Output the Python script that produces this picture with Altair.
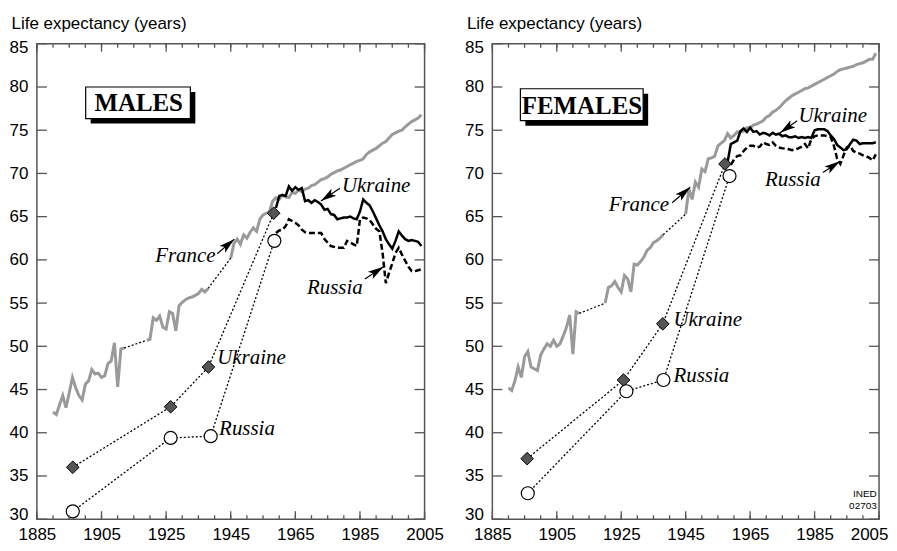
import math
import altair as alt
import pandas as pd

# ---------------- data ----------------
X_DOMAIN = [1885, 2005]
Y_DOMAIN = [30, 85]
X_MAJOR = [1885, 1905, 1925, 1945, 1965, 1985, 2005]
X_MINOR = list(range(1885, 2006, 5))
Y_TICKS = list(range(30, 86, 5))
Y_TITLE = "Life expectancy (years)"

# ---- MALES ----
M_FR_YEARS_1 = list(range(1890, 1913))
M_FR_1 = [42.4, 42.1, 43.2, 44.3, 42.9, 44.6, 46.4, 45.2, 44.3, 43.8,
          45.6, 46.0, 47.3, 46.8, 46.9, 46.4, 46.6, 48.0, 48.3, 50.4,
          45.3, 49.7, 49.8]
M_FR_YEARS_2 = list(range(1919, 1939))
M_FR_2 = [50.7, 50.8, 53.3, 53.0, 53.5, 52.2, 52.0, 54.0, 53.8, 51.8,
          54.7, 55.1, 55.4, 55.6, 55.7, 55.9, 56.1, 56.6, 56.3, 56.7]
M_FR_YEARS_3 = list(range(1945, 2005))
M_FR_3 = [60.2, 61.9, 62.4, 61.8, 62.9, 62.5, 63.2, 63.7, 63.3, 64.7,
          65.2, 65.4, 65.6, 66.8, 67.2, 67.0, 67.5, 67.3, 67.2, 67.8,
          67.7, 68.1, 67.9, 68.2, 68.3, 68.6, 68.7, 69.0, 69.3, 69.4,
          69.6, 69.9, 70.1, 70.3, 70.4, 70.6, 70.8, 71.0, 71.2, 71.4,
          71.5, 71.7, 72.2, 72.5, 72.7, 72.9, 73.2, 73.5, 73.7, 74.1,
          74.5, 74.7, 74.9, 75.0, 75.4, 75.7, 76.0, 76.2, 76.4, 76.8]
M_UA_YEARS = list(range(1959, 2005))
M_UA = [66.0, 67.4, 67.5, 67.4, 68.5, 68.0, 68.4, 68.1, 68.3, 66.8,
        66.9, 66.6, 66.9, 66.7, 66.4, 65.8, 65.9, 65.3, 65.2, 64.7,
        64.8, 64.9, 64.9, 65.0, 64.8, 64.7, 65.6, 67.0, 66.6, 66.3,
        65.6, 64.8, 64.0, 63.3, 62.4, 61.8, 61.3, 62.2, 63.3, 62.8,
        62.4, 62.2, 62.3, 62.2, 62.1, 61.6]
M_RU_YEARS = list(range(1959, 2005))
M_RU = [63.1, 63.4, 63.5, 63.9, 64.7, 64.5, 64.3, 64.0, 63.5, 63.2,
        63.1, 63.1, 63.1, 63.1, 63.1, 62.4, 62.0, 61.6, 61.5, 61.4,
        61.4, 61.4, 62.2, 62.0, 61.8, 61.6, 64.7, 64.9, 64.8, 64.6,
        64.1, 63.6, 63.3, 60.8, 57.3, 58.5, 59.6, 60.8, 61.4, 60.6,
        59.9, 59.2, 58.7, 58.7, 58.8, 58.9]
M_UA_HIST_YEARS = [1896.1, 1926.4, 1938.1, 1958.3]
M_UA_HIST = [36.0, 43.0, 47.6, 65.4]
M_RU_HIST_YEARS = [1896.1, 1926.4, 1938.8, 1958.5]
M_RU_HIST = [30.9, 39.4, 39.6, 62.2]
M_BOX_YEARS = [1900.1, 1932.5]
M_BOX_VALUES = [76.35, 80.0]
M_BOX_TEXT = "MALES"
M_BOX_TEXT_AT = [1916.5, 77.24]
M_LABELS = ["France", "Ukraine", "Russia", "Ukraine", "Russia"]
M_LABEL_YEARS = [1921.6, 1979.4, 1968.6, 1940.8, 1941.4]
M_LABEL_VALUES = [59.75, 67.9, 56.1, 47.95, 39.7]
M_ARROW_FROM_YEARS = [1940.8, 1978.8, 1986.5]
M_ARROW_FROM_VALUES = [60.7, 68.3, 57.8]
M_ARROW_TO_YEARS = [1946.1, 1972.9, 1992.3]
M_ARROW_TO_VALUES = [62.4, 66.8, 59.2]

# ---- FEMALES ----
F_FR_YEARS_1 = list(range(1890, 1913))
F_FR_1 = [45.2, 44.9, 46.0, 47.6, 46.4, 48.8, 49.4, 47.6, 47.4, 47.2,
          49.0, 49.7, 50.3, 50.0, 50.7, 50.0, 50.3, 51.2, 52.2, 53.6,
          49.1, 54.0, 53.8]
F_FR_YEARS_2 = list(range(1920, 1939))
F_FR_2 = [55.0, 56.8, 57.0, 57.5, 56.8, 56.3, 58.2, 57.8, 56.3, 59.5,
          59.4, 59.8, 60.3, 61.1, 61.4, 62.0, 62.2, 62.5, 62.9]
F_FR_YEARS_3 = list(range(1945, 2005))
F_FR_3 = [65.3, 68.2, 67.0, 69.0, 68.4, 70.5, 70.2, 71.7, 71.8, 72.0,
          73.2, 73.5, 73.8, 74.6, 74.1, 74.4, 74.8, 74.8, 74.9, 75.3,
          75.3, 75.6, 75.7, 75.9, 76.1, 76.5, 76.7, 77.1, 77.3, 77.6,
          78.0, 78.4, 78.7, 79.0, 79.2, 79.4, 79.6, 79.8, 79.9, 80.1,
          80.3, 80.5, 80.7, 80.9, 81.1, 81.3, 81.5, 81.8, 82.0, 82.1,
          82.2, 82.3, 82.4, 82.6, 82.7, 82.8, 83.0, 83.2, 83.2, 83.9]
F_UA_YEARS = list(range(1958, 2005))
F_UA = [71.3, 73.4, 73.6, 73.8, 74.9, 75.2, 74.8, 75.3, 74.8, 74.9,
        74.5, 74.7, 74.6, 74.4, 74.7, 74.5, 74.6, 74.3, 74.4, 74.2,
        74.2, 74.3, 74.1, 74.2, 74.1, 74.2, 74.1, 75.0, 75.1, 75.1,
        75.1, 74.9, 74.4, 74.0, 73.3, 73.0, 72.7, 72.8, 73.4, 73.9,
        73.8, 73.4, 73.5, 73.5, 73.5, 73.5, 73.6]
F_RU_YEARS = list(range(1959, 2005))
F_RU = [71.0, 71.6, 72.0, 72.1, 72.6, 73.0, 73.2, 73.2, 73.0, 73.1,
        73.6, 73.4, 73.3, 73.6, 73.2, 73.0, 72.9, 72.9, 72.8, 72.7,
        72.8, 72.9, 73.1, 73.4, 72.9, 74.0, 74.3, 74.4, 74.4, 74.4,
        74.3, 74.2, 73.2, 71.7, 71.1, 72.1, 73.0, 73.2, 72.6, 72.4,
        72.3, 72.1, 72.0, 71.8, 71.5, 72.2]
F_UA_HIST_YEARS = [1895.8, 1925.7, 1937.9, 1957.2]
F_UA_HIST = [37.0, 46.1, 52.6, 71.1]
F_RU_HIST_YEARS = [1896.0, 1926.6, 1938.1, 1958.6]
F_RU_HIST = [33.0, 44.8, 46.1, 69.7]
F_BOX_YEARS = [1893.7, 1931.8]
F_BOX_VALUES = [76.1, 79.8]
F_BOX_TEXT = "FEMALES"
F_BOX_TEXT_AT = [1912.8, 76.9]
F_LABELS = ["France", "Ukraine", "Russia", "Ukraine", "Russia"]
F_LABEL_YEARS = [1921.1, 1980.0, 1969.6, 1941.2, 1941.2]
F_LABEL_VALUES = [65.7, 76.0, 68.5, 52.3, 45.9]
F_ARROW_FROM_YEARS = [1940.8, 1979.6, 1987.6]
F_ARROW_FROM_VALUES = [66.6, 76.1, 70.1]
F_ARROW_TO_YEARS = [1946.4, 1974.3, 1992.9]
F_ARROW_TO_VALUES = [68.4, 74.7, 71.4]
SOURCE_LINES = ["INED", "02703"]
SOURCE_AT = [2004.3, 32.55]

PLOT_H = 477
FONT = "Liberation Sans"
SERIF = "Liberation Serif"
FRAME = "#555555"
ARROW_PATH = "M0,0L0.55,2L0,1.55L-0.55,2Z"

XS = alt.Scale(domain=X_DOMAIN, nice=False, zero=False)
YS = alt.Scale(domain=Y_DOMAIN, nice=False, zero=False)


def x_axis(last_shift):
    return alt.Axis(orient="bottom", values=X_MAJOR, format="d", ticks=False, tickSize=0,
                    labelPadding=20, labelBaseline="alphabetic", labelFlush=False,
                    labelOverlap=False, domain=False, grid=False, title=None,
                    labelOffset=alt.condition("datum.value == 2005", alt.value(last_shift),
                                              alt.value(0)))


AX_Y = alt.Axis(orient="left", values=Y_TICKS, ticks=False, tickSize=0, labelPadding=9,
                labelFlush=True, labelFlushOffset=4, labelOverlap=False, domain=False,
                grid=False, title=Y_TITLE, titleAngle=0, titleAlign="left",
                titleBaseline="alphabetic", titleX=-26, titleY=-15)


def ex(field, axis=None):
    return alt.X(f"{field}:Q", scale=XS, axis=axis)


def ey(field, axis=None):
    return alt.Y(f"{field}:Q", scale=YS, axis=axis)


def tick_layers():
    xt_min = pd.DataFrame({"year": X_MINOR, "lo": Y_DOMAIN[0], "hi": Y_DOMAIN[1]})
    xt_maj = pd.DataFrame({"year": X_MAJOR, "lo": Y_DOMAIN[0], "hi": Y_DOMAIN[1]})
    yt = pd.DataFrame({"value": Y_TICKS, "lo": X_DOMAIN[0], "hi": X_DOMAIN[1]})
    tk = dict(color=FRAME, strokeWidth=1.3)
    return [
        alt.Chart(xt_min).mark_rule(y2Offset=-4, **tk).encode(x=ex("year"), y=ey("lo"), y2="lo:Q"),
        alt.Chart(xt_maj).mark_rule(y2Offset=-8, **tk).encode(x=ex("year"), y=ey("lo"), y2="lo:Q"),
        alt.Chart(xt_min).mark_rule(y2Offset=4, **tk).encode(x=ex("year"), y=ey("hi"), y2="hi:Q"),
        alt.Chart(xt_maj).mark_rule(y2Offset=8, **tk).encode(x=ex("year"), y=ey("hi"), y2="hi:Q"),
        alt.Chart(yt).mark_rule(x2Offset=10, **tk).encode(x=ex("lo"), x2="lo:Q", y=ey("value")),
        alt.Chart(yt).mark_rule(x2Offset=-10, **tk).encode(x=ex("hi"), x2="hi:Q", y=ey("value")),
    ]


def build_panel(p):
    W, H = p["w"], PLOT_H
    fr = pd.concat([pd.DataFrame({"year": yy, "value": vv, "seg": i})
                    for i, (yy, vv) in enumerate(p["fr"])])
    rows = []
    g = 0
    for a, b in zip(p["fr"][:-1], p["fr"][1:]):
        rows.append({"year": a[0][-1], "value": a[1][-1], "grp": g})
        rows.append({"year": b[0][0], "value": b[1][0], "grp": g})
        g += 1
    for yrs, vals in (p["ua_hist"], p["ru_hist"]):
        for yy, vv in zip(yrs, vals):
            rows.append({"year": yy, "value": vv, "grp": g})
        g += 1
    conn = pd.DataFrame(rows)
    ua = pd.DataFrame({"year": p["ua"][0], "value": p["ua"][1]})
    ru = pd.DataFrame({"year": p["ru"][0], "value": p["ru"][1]})
    uah = pd.DataFrame({"year": p["ua_hist"][0], "value": p["ua_hist"][1]})
    ruh = pd.DataFrame({"year": p["ru_hist"][0], "value": p["ru_hist"][1]})
    box = pd.DataFrame({"x1": [p["box_years"][0]], "x2": [p["box_years"][1]],
                        "y1": [p["box_values"][0]], "y2": [p["box_values"][1]]})
    boxt = pd.DataFrame({"t": [p["box_text"]], "year": [p["box_text_at"][0]],
                         "value": [p["box_text_at"][1]]})
    labs = pd.DataFrame({"t": p["labels"], "year": p["label_years"], "value": p["label_values"]})
    arr = pd.DataFrame({"x1": p["af_y"], "y1": p["af_v"], "x2": p["at_y"], "y2": p["at_v"]})
    sx, sy = W / (X_DOMAIN[1] - X_DOMAIN[0]), H / (Y_DOMAIN[1] - Y_DOMAIN[0])
    arr["angle"] = [
        (math.degrees(math.atan2((x2 - x1) * sx, (y2 - y1) * sy)) + 360) % 360
        for x1, y1, x2, y2 in zip(arr.x1, arr.y1, arr.x2, arr.y2)
    ]

    layers = [
        alt.Chart(fr).mark_line(color="#9a9a9a", strokeWidth=3).encode(
            x=ex("year", x_axis(p["last_shift"])), y=ey("value", AX_Y), detail="seg:N"),
        alt.Chart(conn).mark_line(color="black", strokeWidth=1.3, strokeDash=[2, 2]).encode(
            x=ex("year"), y=ey("value"), detail="grp:N"),
        alt.Chart(ua).mark_line(color="black", strokeWidth=2.5).encode(
            x=ex("year"), y=ey("value")),
        alt.Chart(ru).mark_line(color="black", strokeWidth=2.5, strokeDash=[6, 3]).encode(
            x=ex("year"), y=ey("value")),
        alt.Chart(uah).mark_point(shape="diamond", filled=True, fill="#555555", stroke="black",
                                  strokeWidth=1, size=160, opacity=1).encode(
            x=ex("year"), y=ey("value")),
        alt.Chart(ruh).mark_point(shape="circle", filled=True, fill="white", stroke="black",
                                  strokeWidth=1.2, size=170, opacity=1).encode(
            x=ex("year"), y=ey("value")),
        alt.Chart(box).mark_rect(color="black", xOffset=5, x2Offset=5, yOffset=5, y2Offset=5).encode(
            x=ex("x1"), x2="x2:Q", y=ey("y1"), y2="y2:Q"),
        alt.Chart(box).mark_rect(fill="white", stroke="black", strokeWidth=1.2).encode(
            x=ex("x1"), x2="x2:Q", y=ey("y1"), y2="y2:Q"),
        alt.Chart(boxt).mark_text(font=SERIF, fontWeight="bold", fontSize=25, align="center",
                                  baseline="alphabetic", color="black").encode(
            x=ex("year"), y=ey("value"), text="t:N"),
        alt.Chart(labs).mark_text(font=SERIF, fontStyle="italic", fontSize=21, align="left",
                                  baseline="alphabetic", color="black").encode(
            x=ex("year"), y=ey("value"), text="t:N"),
        alt.Chart(arr).mark_rule(color="black", strokeWidth=1.2).encode(
            x=ex("x1"), x2="x2:Q", y=ey("y1"), y2="y2:Q"),
        alt.Chart(arr).mark_point(shape=ARROW_PATH, filled=True, color="black", size=250,
                                  opacity=1).encode(
            x=ex("x2"), y=ey("y2"), angle=alt.Angle("angle:Q", scale=None)),
    ] + tick_layers()
    if p["source"]:
        src = pd.DataFrame({"year": [SOURCE_AT[0]], "value": [SOURCE_AT[1]]})
        layers.append(alt.Chart(src).mark_text(
            text=SOURCE_LINES, lineHeight=11.8, font=FONT, fontSize=10, align="right",
            baseline="alphabetic", color="black").encode(x=ex("year"), y=ey("value")))

    return alt.layer(*layers).resolve_axis(x="independent", y="independent").properties(
        width=W, height=H)


MALE = dict(w=389, last_shift=0,
            fr=[(M_FR_YEARS_1, M_FR_1), (M_FR_YEARS_2, M_FR_2), (M_FR_YEARS_3, M_FR_3)],
            ua=(M_UA_YEARS, M_UA), ru=(M_RU_YEARS, M_RU),
            ua_hist=(M_UA_HIST_YEARS, M_UA_HIST), ru_hist=(M_RU_HIST_YEARS, M_RU_HIST),
            box_years=M_BOX_YEARS, box_values=M_BOX_VALUES, box_text=M_BOX_TEXT,
            box_text_at=M_BOX_TEXT_AT, labels=M_LABELS, label_years=M_LABEL_YEARS,
            label_values=M_LABEL_VALUES, af_y=M_ARROW_FROM_YEARS, af_v=M_ARROW_FROM_VALUES,
            at_y=M_ARROW_TO_YEARS, at_v=M_ARROW_TO_VALUES, source=False)
FEMALE = dict(w=388, last_shift=-10,
              fr=[(F_FR_YEARS_1, F_FR_1), (F_FR_YEARS_2, F_FR_2), (F_FR_YEARS_3, F_FR_3)],
              ua=(F_UA_YEARS, F_UA), ru=(F_RU_YEARS, F_RU),
              ua_hist=(F_UA_HIST_YEARS, F_UA_HIST), ru_hist=(F_RU_HIST_YEARS, F_RU_HIST),
              box_years=F_BOX_YEARS, box_values=F_BOX_VALUES, box_text=F_BOX_TEXT,
              box_text_at=F_BOX_TEXT_AT, labels=F_LABELS, label_years=F_LABEL_YEARS,
              label_values=F_LABEL_VALUES, af_y=F_ARROW_FROM_YEARS, af_v=F_ARROW_FROM_VALUES,
              at_y=F_ARROW_TO_YEARS, at_v=F_ARROW_TO_VALUES, source=True)

chart = alt.hconcat(build_panel(MALE), build_panel(FEMALE), spacing=68, bounds="flush").properties(
    padding={"left": 0, "top": 5, "right": 0, "bottom": 0}
).configure_view(stroke=FRAME, strokeWidth=1.5).configure_axis(
    labelFont=FONT, labelFontSize=17, labelColor="black",
    titleFont=FONT, titleFontSize=17, titleFontWeight="normal", titleColor="black",
)

chart.save("out.html", embed_options={"renderer": "svg", "actions": False})
